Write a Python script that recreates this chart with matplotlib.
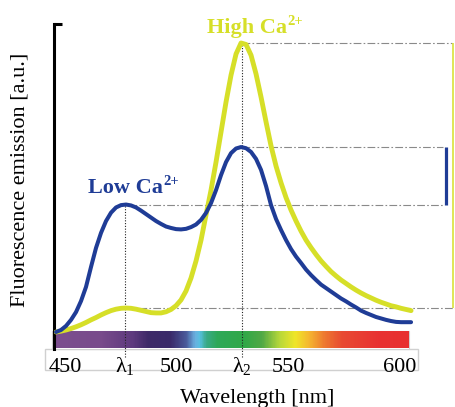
import matplotlib

matplotlib.use("Agg")
import matplotlib.pyplot as plt
import numpy as np
from matplotlib.colors import LinearSegmentedColormap
from matplotlib.patches import Rectangle
from matplotlib.transforms import blended_transform_factory

plt.rcParams["font.family"] = ["Liberation Serif", "DejaVu Serif"]
plt.rcParams["mathtext.fontset"] = "custom"
plt.rcParams["mathtext.rm"] = "Liberation Serif"
plt.rcParams["mathtext.it"] = "Liberation Serif"

# --- data (wavelength in nm, emission in a.u.) ---
wavelength = [445.97, 448.21, 450.45, 452.69, 454.93, 457.16, 459.40, 461.64, 463.88,
              466.12, 468.36, 470.60, 472.84, 475.07, 477.31, 479.55, 481.79, 484.03,
              486.27, 488.51, 490.75, 492.99, 495.22, 497.46, 499.70, 501.94, 504.18,
              506.42, 508.66, 510.90, 513.13, 515.37, 517.61, 519.85, 522.09, 524.33,
              526.57, 528.81, 531.04, 533.28, 535.52, 537.76, 540.00, 542.24, 544.48,
              546.72, 548.96, 551.19, 553.43, 555.67, 557.91, 560.15, 562.39, 564.63,
              566.87, 569.10, 571.34, 573.58, 575.82, 578.06, 580.30, 582.54, 584.78,
              587.01, 589.25, 591.49, 593.73, 595.97, 598.21, 600.45, 602.69, 604.93]
em_low = [0.000, 0.007, 0.021, 0.042, 0.069, 0.107, 0.156, 0.225, 0.291,
          0.343, 0.384, 0.413, 0.431, 0.439, 0.441, 0.438, 0.431, 0.420,
          0.408, 0.396, 0.384, 0.374, 0.365, 0.360, 0.356, 0.355, 0.357,
          0.363, 0.372, 0.388, 0.412, 0.446, 0.491, 0.543, 0.588, 0.619,
          0.635, 0.640, 0.636, 0.623, 0.599, 0.561, 0.505, 0.439, 0.391,
          0.353, 0.318, 0.287, 0.261, 0.239, 0.216, 0.197, 0.180, 0.164,
          0.152, 0.140, 0.128, 0.116, 0.106, 0.095, 0.085, 0.074, 0.066,
          0.059, 0.052, 0.047, 0.042, 0.038, 0.035, 0.034, 0.034, 0.034]
em_high = [0.000, 0.003, 0.007, 0.012, 0.018, 0.025, 0.033, 0.042, 0.050,
           0.059, 0.067, 0.074, 0.079, 0.082, 0.083, 0.082, 0.079, 0.075,
           0.071, 0.067, 0.066, 0.066, 0.070, 0.078, 0.091, 0.111, 0.142,
           0.187, 0.246, 0.318, 0.405, 0.491, 0.588, 0.692, 0.796, 0.889,
           0.962, 1.000, 0.995, 0.958, 0.893, 0.813, 0.727, 0.644, 0.574,
           0.516, 0.465, 0.422, 0.384, 0.349, 0.318, 0.292, 0.268, 0.246,
           0.227, 0.209, 0.194, 0.180, 0.168, 0.156, 0.145, 0.135, 0.126,
           0.118, 0.110, 0.103, 0.097, 0.091, 0.087, 0.082, 0.078, 0.074]

lambda_1 = 476.9
lambda_2 = 529.25
tick_values = [450, lambda_1, 500, lambda_2, 550, 600]
tick_labels = ["450", r"$\lambda_1$", "500", r"$\lambda_2$", "550", "600"]

# visible-spectrum strip
spectrum_nm = [445.5, 466, 480, 487, 497, 504, 508, 510, 513, 518, 530, 538,
               546, 553, 559, 566, 574, 590, 603.6]
spectrum_colors = ["#7c4e8f", "#784b8b", "#5e3a7e", "#3e2a68", "#3a2a6a",
                   "#4a5a9a", "#6ab0e0", "#58c0e0", "#3aaa88", "#2ea858",
                   "#30a848", "#50a845", "#b8d83a", "#f0e628", "#f5b830",
                   "#ee7a30", "#e84a32", "#e83232", "#e83030"]

BLUE = "#1f3c96"
YELLOW = "#d6df28"

fig = plt.figure(figsize=(4.55, 4.07), dpi=100)
ax = fig.add_axes([54 / 455, 58 / 407, 401 / 455, 329 / 407])
ax.set_xlim(445.07, 624.6)
ax.set_ylim(-0.0588, 1.0796)

for side in ("top", "right", "bottom"):
    ax.spines[side].set_visible(False)
ax.spines["left"].set_linewidth(2.2)
ax.spines["left"].set_bounds(-0.0588, 1.0657)
ax.set_xticks([])
ax.set_yticks([1.0657])
ax.tick_params(axis="y", direction="in", length=6, width=2.2, labelleft=False)

# spectrum strip + label box
lo, hi = spectrum_nm[0], spectrum_nm[-1]
cmap = LinearSegmentedColormap.from_list(
    "spec", [((v - lo) / (hi - lo), c) for v, c in zip(spectrum_nm, spectrum_colors)])
ax.add_patch(Rectangle((441.0, -0.1315), 608.0 - 441.0, 0.0727, facecolor="white",
                       edgecolor="#d0d0d0", lw=1.0, clip_on=False, zorder=1))
ax.add_patch(Rectangle((444.2, -0.0588), 604.0 - 444.2, 0.0623, facecolor="white",
                       edgecolor="#d0d0d0", lw=0.8, clip_on=False, zorder=1))
ax.imshow(np.linspace(0, 1, 600).reshape(1, -1), cmap=cmap, aspect="auto",
          extent=[lo, hi, -0.0554, 0.0], zorder=2, clip_on=False)

# guide lines
peak_high = max(em_high)
bump_high = max(e for w, e in zip(wavelength, em_high) if w < 490)
peak_low1 = max(e for w, e in zip(wavelength, em_low) if w < 490)
peak_low2 = max(em_low)
dashdot = (0, (7, 2, 1.5, 2))
kw = dict(color="#8a8a8a", lw=0.8, linestyle=dashdot, zorder=3, clip_on=False)
ax.hlines(peak_high, lambda_2, 623.3, **kw)
ax.hlines(peak_low2, lambda_2, 619.3, **kw)
ax.hlines(peak_low1, lambda_1, 619.3, **kw)
ax.hlines(bump_high, lambda_1, 624.6, **kw)
ax.vlines([lambda_1, lambda_2], -0.0865, [peak_low1, peak_high], color="#222222",
          lw=0.8, linestyle=(0, (1, 1.5)), zorder=4, clip_on=False)
ax.vlines(623.75, bump_high, peak_high, color=YELLOW, lw=1.1, zorder=3)
ax.vlines(620.6, peak_low1, peak_low2, color=BLUE, lw=2.3, zorder=3)

# emission curves
ax.plot(wavelength, em_high, color=YELLOW, lw=3.5, solid_capstyle="round",
        solid_joinstyle="round", zorder=5)
ax.plot(wavelength, em_low, color=BLUE, lw=2.9, solid_capstyle="round",
        solid_joinstyle="round", zorder=6)

# curve labels
t_hi = ax.text(513.6, 1.0346, "High Ca", color=YELLOW, fontsize=16, fontweight="bold")
ax.annotate("2+", xy=(1, 1), xycoords=t_hi, xytext=(0.5, 2.5), textcoords="offset points",
            ha="left", va="top", fontsize=10.5, fontweight="bold", color=YELLOW)
t_lo = ax.text(460.3, 0.481, "Low Ca", color=BLUE, fontsize=16, fontweight="bold")
ax.annotate("2+", xy=(1, 1), xycoords=t_lo, xytext=(0.5, 2.5), textcoords="offset points",
            ha="left", va="top", fontsize=10.5, fontweight="bold", color=BLUE)

# tick labels
trans = blended_transform_factory(ax.transData, fig.transFigure)
for v, lab in zip(tick_values, tick_labels):
    ax.text(v, 1 - 372 / 407, lab, transform=trans, ha="center", va="baseline",
            fontsize=16, zorder=7)

fig.text(257 / 455, 1 - 403 / 407, "Wavelength [nm]", ha="center", va="baseline",
         fontsize=16)
fig.text(20 / 455, 1 - 180 / 407, "Fluorescence emission [a.u.]", rotation=90,
         ha="center", va="center", fontsize=16)

fig.savefig("out.png", dpi=100)
